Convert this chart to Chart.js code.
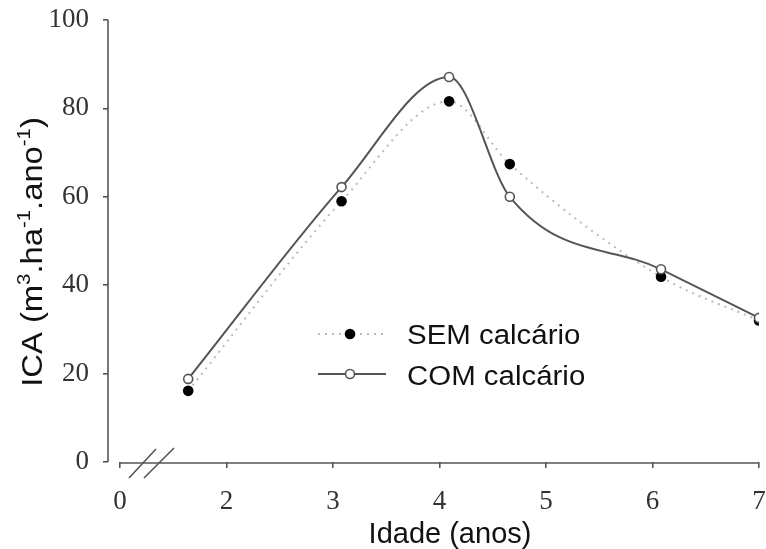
<!DOCTYPE html>
<html>
<head>
<meta charset="utf-8">
<script src="https://cdn.jsdelivr.net/npm/chart.js@4/dist/chart.umd.min.js"></script>
<style>
html,body{margin:0;padding:0;background:#fff;}
#c{display:block;}
</style>
</head>
<body>
<canvas id="c" width="766" height="549"></canvas>
<script>
// ---- data ----
const ages = [1.64, 3.08, 4.09, 4.66, 6.08, 7.0];
const semCalcario = [16.1, 59.0, 81.6, 67.4, 41.9, 32.0];
const comCalcario = [18.8, 62.2, 87.1, 60.0, 43.6, 32.6];
const xTickValues = [1, 2, 3, 4, 5, 6, 7];
const xTickLabels = ['0', '2', '3', '4', '5', '6', '7'];
const yTickValues = [0, 20, 40, 60, 80, 100];
const seriesNames = ['SEM calcário', 'COM calcário'];
const xTitle = 'Idade (anos)';

const tickFont = {family: '"Liberation Serif", "Times New Roman", serif', size: 27};
const axisColor = '#555';

const decor = {
  id: 'decor',
  beforeDatasetsDraw(chart) {
    const ctx = chart.ctx, xs = chart.scales.x, ys = chart.scales.y, ca = chart.chartArea;
    ctx.save();
    ctx.strokeStyle = axisColor;
    ctx.lineWidth = 1.6;
    ctx.beginPath();
    ctx.moveTo(ca.left, ys.getPixelForValue(100));
    ctx.lineTo(ca.left, ys.getPixelForValue(0));
    ctx.stroke();
    const yb = ys.getPixelForValue(0) + 1;
    ctx.beginPath();
    ctx.moveTo(xs.getPixelForValue(1), yb);
    ctx.lineTo(xs.getPixelForValue(7), yb);
    ctx.stroke();
    // axis break marks
    ctx.beginPath();
    ctx.moveTo(129, 478); ctx.lineTo(156, 449);
    ctx.moveTo(144, 478); ctx.lineTo(174, 448);
    ctx.stroke();
    ctx.restore();
  },
  afterDraw(chart) {
    const ctx = chart.ctx;
    ctx.save();
    ctx.fillStyle = '#111';
    ctx.font = '29px "Liberation Sans", Arial, sans-serif';
    ctx.textAlign = 'center';
    ctx.textBaseline = 'alphabetic';
    ctx.fillText(xTitle, 450, 543);
    // y title with superscripts
    const segs = [['ICA (m', false], ['3', true], ['.ha', false], ['-1', true], ['.ano', false], ['-1', true], [')', false]];
    const big = '29px "Liberation Sans", Arial, sans-serif';
    const small = '18px "Liberation Sans", Arial, sans-serif';
    let total = 0;
    segs.forEach(s => { ctx.font = s[1] ? small : big; total += ctx.measureText(s[0]).width; });
    ctx.translate(42, 252);
    ctx.rotate(-Math.PI / 2);
    ctx.scale(1.13, 1);
    ctx.textAlign = 'left';
    let x = -total / 2;
    segs.forEach(s => {
      ctx.font = s[1] ? small : big;
      ctx.fillText(s[0], x, s[1] ? -12 : 0);
      x += ctx.measureText(s[0]).width;
    });
    ctx.restore();

    // legend
    ctx.save();
    ctx.strokeStyle = '#bbb';
    ctx.lineWidth = 2;
    ctx.setLineDash([2, 5]);
    ctx.beginPath(); ctx.moveTo(318, 334); ctx.lineTo(386, 334); ctx.stroke();
    ctx.setLineDash([]);
    ctx.fillStyle = '#000';
    ctx.beginPath(); ctx.arc(350, 334, 5.3, 0, Math.PI * 2); ctx.fill();
    ctx.strokeStyle = axisColor;
    ctx.lineWidth = 2;
    ctx.beginPath(); ctx.moveTo(318, 374); ctx.lineTo(386, 374); ctx.stroke();
    ctx.fillStyle = '#fff';
    ctx.lineWidth = 1.6;
    ctx.beginPath(); ctx.arc(350, 374, 4.5, 0, Math.PI * 2); ctx.fill(); ctx.stroke();
    ctx.fillStyle = '#111';
    ctx.font = '27px "Liberation Sans", Arial, sans-serif';
    ctx.textAlign = 'left';
    ctx.textBaseline = 'alphabetic';
    ctx.translate(407, 0);
    ctx.scale(1.09, 1);
    ctx.fillText(seriesNames[0], 0, 344);
    ctx.fillText(seriesNames[1], 0, 385);
    ctx.restore();
  }
};

new Chart(document.getElementById('c'), {
  type: 'scatter',
  data: {
    datasets: [
      {
        label: seriesNames[1],
        data: ages.map((a, i) => ({x: a, y: comCalcario[i]})),
        showLine: true,
        cubicInterpolationMode: 'monotone',
        borderColor: axisColor,
        borderWidth: 2,
        pointRadius: 4.5,
        pointBackgroundColor: '#fff',
        pointBorderColor: axisColor,
        pointBorderWidth: 1.6,
        order: 0
      },
      {
        label: seriesNames[0],
        data: ages.map((a, i) => ({x: a, y: semCalcario[i]})),
        showLine: true,
        cubicInterpolationMode: 'monotone',
        borderColor: '#bbb',
        borderWidth: 2,
        borderDash: [2, 5],
        pointRadius: 5.3,
        pointBackgroundColor: '#000',
        pointBorderColor: '#000',
        pointBorderWidth: 0,
        order: 1
      }
    ]
  },
  options: {
    responsive: false,
    animation: false,
    layout: {padding: {top: 20, right: 7, left: 0, bottom: 0}},
    plugins: {legend: {display: false}, tooltip: {enabled: false}},
    scales: {
      x: {
        type: 'linear',
        min: 0.887,
        max: 7,
        afterBuildTicks: s => { s.ticks = xTickValues.map(v => ({value: v})); },
        afterFit: s => { s.height = 87; s.paddingLeft = 0; s.paddingRight = 0; },
        ticks: {
          autoSkip: false,
          maxRotation: 0,
          font: tickFont,
          color: '#333',
          padding: 18,
          callback: (v) => { const i = xTickValues.indexOf(v); return i >= 0 ? xTickLabels[i] : ''; }
        },
        grid: {display: true, drawOnChartArea: false, drawTicks: true, tickLength: 6, color: axisColor, lineWidth: 1.6},
        border: {display: false}
      },
      y: {
        min: 0,
        max: 100,
        afterBuildTicks: s => { s.ticks = yTickValues.map(v => ({value: v})); },
        afterFit: s => { s.width = 108; s.paddingTop = 0; s.paddingBottom = 0; },
        ticks: {font: tickFont, color: '#333', padding: 14},
        grid: {display: true, drawOnChartArea: false, drawTicks: true, tickLength: 5, color: axisColor, lineWidth: 1.6},
        border: {display: false}
      }
    }
  },
  plugins: [decor]
});
</script>
</body>
</html>
